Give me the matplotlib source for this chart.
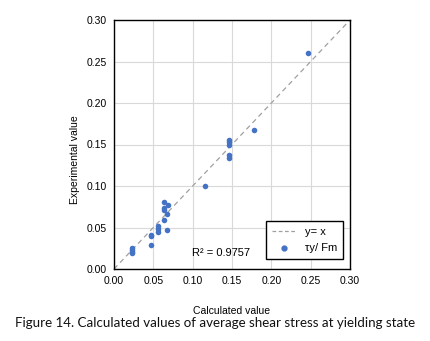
import matplotlib
matplotlib.use("Agg")
import matplotlib.pyplot as plt
from matplotlib.lines import Line2D

calc = [0.246, 0.178, 0.146, 0.146, 0.146, 0.146, 0.146, 0.116,
        0.064, 0.069, 0.064, 0.064, 0.067, 0.064, 0.067,
        0.056, 0.056, 0.056, 0.047, 0.047, 0.047,
        0.023, 0.023, 0.023, 0.023]
expt = [0.260, 0.168, 0.156, 0.153, 0.150, 0.137, 0.134, 0.100,
        0.081, 0.077, 0.073, 0.071, 0.066, 0.059, 0.047,
        0.052, 0.048, 0.044, 0.041, 0.040, 0.029,
        0.025, 0.023, 0.021, 0.019]
ticks = [0.00, 0.05, 0.10, 0.15, 0.20, 0.25, 0.30]
tick_labels = ["0.00", "0.05", "0.10", "0.15", "0.20", "0.25", "0.30"]
r2_text = "R² = 0.9757"

plt.rcParams['font.family'] = ['Liberation Sans', 'DejaVu Sans']
fig = plt.figure(figsize=(4.30, 3.41), dpi=100)
ax = fig.add_axes([114/430, 72/341, 236/430, 249/341])

ax.plot([ticks[0], ticks[-1]], [ticks[0], ticks[-1]], ls=(0, (4, 3)), color='#a0a0a0', lw=0.9, zorder=2)
ax.scatter(calc, expt, s=16, color='#4472C4', zorder=3, linewidths=0)

ax.set_xlim(ticks[0], ticks[-1])
ax.set_ylim(ticks[0], ticks[-1])
ax.set_xticks(ticks)
ax.set_yticks(ticks)
ax.set_xticklabels(tick_labels, fontsize=7.5)
ax.set_yticklabels(tick_labels, fontsize=7.5)
ax.tick_params(length=0, pad=5)
ax.grid(True, color='#d9d9d9', lw=0.8, zorder=0)
ax.set_axisbelow(True)
for s in ax.spines.values():
    s.set_color('black')
    s.set_linewidth(1.0)

ax.set_xlabel("Calculated value", fontsize=7.5)
ax.xaxis.set_label_coords(0.5, -(306 - 269) / 249)
ax.set_ylabel("Experimental value", fontsize=7.5, va='center')
ax.yaxis.set_label_coords((75 - 114) / 236, (269 - 160) / 249)

ax.text(0.099, 0.019, r2_text, fontsize=8, ha='left', va='center', zorder=4)

handles = [Line2D([0], [0], ls=(0, (3, 2)), color='#a0a0a0', lw=0.9),
           Line2D([0], [0], ls='none', marker='o', color='#4472C4', markersize=3.5)]
leg = ax.legend(handles, ["y= x", "τy/ Fm"], loc='lower right', bbox_to_anchor=(0.970, 0.040),
                borderaxespad=0, fontsize=8, frameon=True, fancybox=False, edgecolor='black',
                framealpha=1, handlelength=2.2, borderpad=0.5, labelspacing=0.6)
leg.get_frame().set_linewidth(1.0)

fig.text(0.5, (341 - 323) / 341, "Figure 14. Calculated values of average shear stress at yielding state",
         ha='center', va='center', fontsize=9.6, family=['Lato', 'DejaVu Sans'], color='#111111')

fig.savefig("out.png", dpi=100)
